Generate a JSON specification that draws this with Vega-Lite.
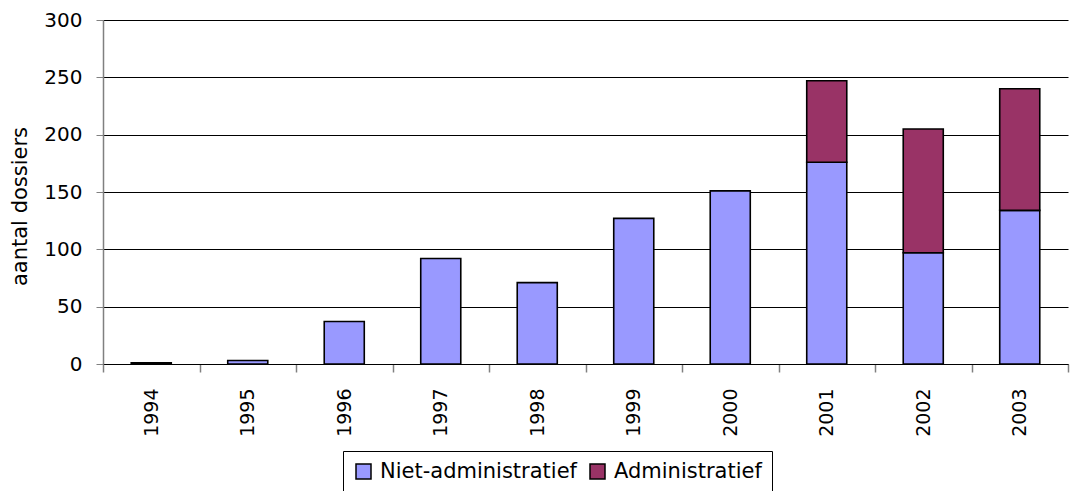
{
  "$schema": "https://vega.github.io/schema/vega-lite/v6.json",
  "width": 965,
  "height": 344,
  "autosize": {"type": "none"},
  "padding": {"left": 103, "top": 20, "right": 7, "bottom": 127},
  "background": "white",
  "config": {
    "view": {"stroke": null},
    "font": "DejaVu Sans"
  },
  "data": {
    "values": [
      {"jaar": "1994", "type": "Niet-administratief", "aantal": 1, "ord": 1},
      {"jaar": "1995", "type": "Niet-administratief", "aantal": 3, "ord": 1},
      {"jaar": "1996", "type": "Niet-administratief", "aantal": 37, "ord": 1},
      {"jaar": "1997", "type": "Niet-administratief", "aantal": 92, "ord": 1},
      {"jaar": "1998", "type": "Niet-administratief", "aantal": 71, "ord": 1},
      {"jaar": "1999", "type": "Niet-administratief", "aantal": 127, "ord": 1},
      {"jaar": "2000", "type": "Niet-administratief", "aantal": 151, "ord": 1},
      {"jaar": "2001", "type": "Niet-administratief", "aantal": 176, "ord": 1},
      {"jaar": "2001", "type": "Administratief", "aantal": 71, "ord": 2},
      {"jaar": "2002", "type": "Niet-administratief", "aantal": 97, "ord": 1},
      {"jaar": "2002", "type": "Administratief", "aantal": 108, "ord": 2},
      {"jaar": "2003", "type": "Niet-administratief", "aantal": 134, "ord": 1},
      {"jaar": "2003", "type": "Administratief", "aantal": 106, "ord": 2}
    ]
  },
  "mark": {"type": "bar", "stroke": "black", "strokeWidth": 1.6, "width": {"band": 0.415}},
  "encoding": {
    "x": {
      "field": "jaar",
      "type": "ordinal",
      "scale": {"paddingInner": 0, "paddingOuter": 0},
      "axis": {
        "title": null,
        "labelAngle": -90,
        "labelAlign": "right",
        "labelBaseline": "middle",
        "labelFontSize": 19,
        "labelColor": "black",
        "labelPadding": 16,
        "tickBand": "extent",
        "tickColor": "#808080",
        "tickSize": 8,
        "tickWidth": 1.5,
        "domainColor": "black",
        "domainWidth": 1.2
      }
    },
    "y": {
      "field": "aantal",
      "type": "quantitative",
      "stack": "zero",
      "scale": {"domain": [0, 300], "nice": false},
      "axis": {
        "title": "aantal dossiers",
        "titleFontSize": 21,
        "titleFontWeight": "normal",
        "titleColor": "black",
        "titlePadding": 13,
        "titleY": 186,
        "values": [0, 50, 100, 150, 200, 250, 300],
        "labelFontSize": 20,
        "labelColor": "black",
        "labelPadding": 14,
        "tickColor": "#808080",
        "tickSize": 7,
        "grid": true,
        "gridColor": "black",
        "gridWidth": 1,
        "domainColor": "#808080",
        "domainWidth": 1.5
      }
    },
    "color": {
      "field": "type",
      "type": "nominal",
      "scale": {
        "domain": ["Niet-administratief", "Administratief"],
        "range": ["#9999FF", "#993366"]
      },
      "legend": {
        "title": null,
        "orient": "none",
        "direction": "horizontal",
        "legendX": 240,
        "legendY": 431,
        "strokeColor": "black",
        "fillColor": "white",
        "padding": 10,
        "symbolType": "square",
        "symbolSize": 225,
        "symbolStrokeColor": "black",
        "symbolStrokeWidth": 1.5,
        "symbolOpacity": 1,
        "labelFontSize": 21,
        "labelColor": "black",
        "labelOffset": 6,
        "labelLimit": 500,
        "columnPadding": 10
      }
    },
    "order": {"field": "ord", "type": "quantitative"}
  }
}
